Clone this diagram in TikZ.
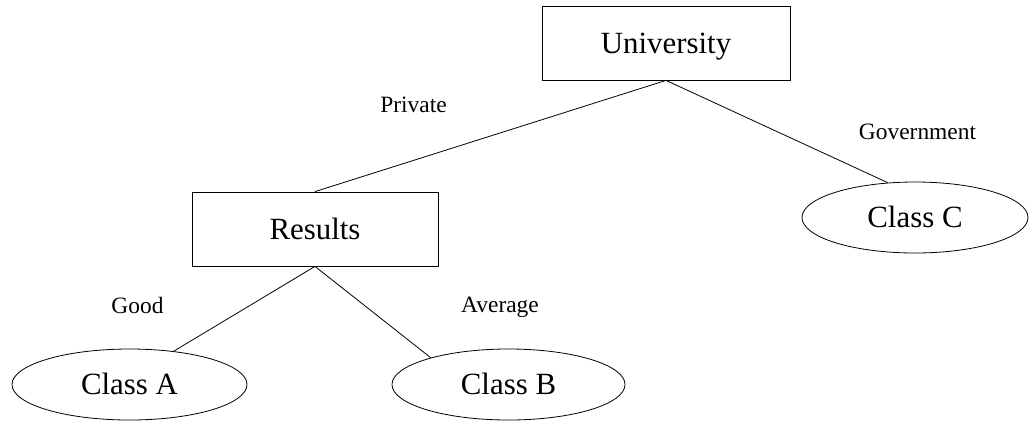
\documentclass[tikz,border=0pt]{standalone}
\usepackage{fontspec}
\setmainfont{Liberation Serif}
\usetikzlibrary{shapes.geometric}
\begin{document}
\begin{tikzpicture}[x=1bp,y=-1bp,
  box/.style={draw, rectangle, line width=0.8bp, inner sep=0pt,
    font=\fontsize{31}{36}\selectfont, text height=20.5bp, text depth=-1bp},
  leaf/.style={draw, ellipse, line width=0.8bp, inner sep=0pt,
    minimum height=71bp, font=\fontsize{31}{36}\selectfont,
    text height=20.5bp, text depth=-6bp},
  lbl/.style={inner sep=0pt, anchor=base, font=\fontsize{23.5}{28}\selectfont},
  link/.style={line width=0.8bp}]
\useasboundingbox (0,0) rectangle (1029,423);

% decision nodes
\node[box, minimum width=248bp, minimum height=74bp] (uni) at (666,43) {University};
\node[box, minimum width=246bp, minimum height=74bp] (res) at (315,229) {Results};

% leaf classes
\node[leaf, minimum width=226bp] (cc) at (915,217.5) {Class C};
\node[leaf, minimum width=235bp] (ca) at (129.5,384.5) {Class A};
\node[leaf, minimum width=233bp] (cb) at (508.5,384.5) {Class B};

% branches
\draw[link] (uni.south) -- (res.north);
\draw[link] (uni.south) -- (cc.128);
\draw[link] (res.south) -- (ca.37);
\draw[link] (res.south) -- (cb.161);

% branch labels
\node[lbl] (lprivate) at (413.5,112.7) {Private};
\node[lbl] (lgov) at (917.5,139) {Government};
\node[lbl] (lgood) at (137.5,313) {Good};
\node[lbl] (lavg) at (500,312) {Average};
\end{tikzpicture}
\end{document}
